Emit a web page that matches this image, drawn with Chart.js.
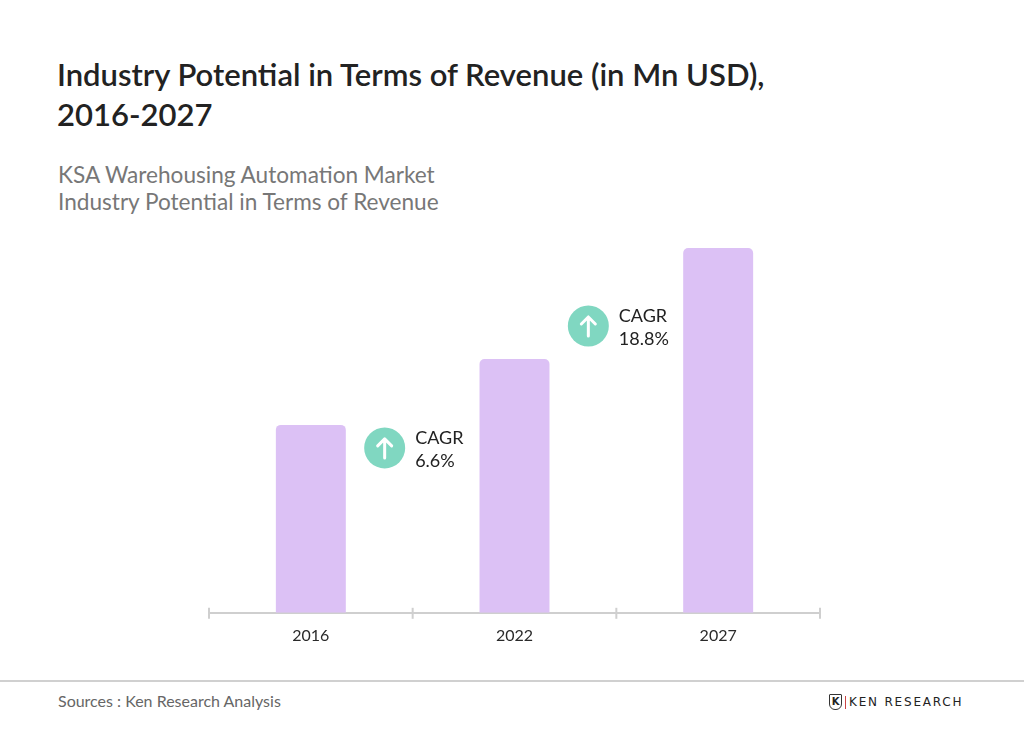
<!DOCTYPE html>
<html>
<head>
<meta charset="utf-8">
<script src="https://cdn.jsdelivr.net/npm/chart.js@4.4.0/dist/chart.umd.min.js"></script>
<style>
  html, body { margin: 0; padding: 0; background: #fff; }
  body { width: 1024px; height: 742px; position: relative; overflow: hidden; font-family: Lato, "Noto Sans", sans-serif; }
  .title { position: absolute; left: 57px; top: 54px; font-size: 31px; font-weight: 600; color: #222; line-height: 40px; }
  .sub { position: absolute; left: 58px; top: 161px; font-size: 22.6px; color: #777; line-height: 27px; }
  .wrap { position: absolute; left: 0; top: 230px; width: 1024px; height: 440px; }
  .rule { position: absolute; left: 0; top: 680px; width: 1024px; height: 2px; background: #d0d0d0; }
  .src { position: absolute; left: 58px; top: 691px; font-size: 16px; color: #666; }
  .logo { position: absolute; left: 829px; top: 694px; font-family: "DejaVu Sans", sans-serif; font-size: 12px; color: #222; letter-spacing: 1.8px; display: flex; align-items: center; }
  .logo .k { display: inline-block; width: 13px; height: 16px; border: 1.5px solid #333; border-radius: 1px 1px 6px 6px; font-size: 10px; font-weight: 700; line-height: 13px; text-align: center; box-sizing: border-box; margin-right: 3px; letter-spacing: 0; }
  .logo .bar { display: inline-block; width: 1px; height: 13px; background: #c44; margin-right: 3px; }
</style>
</head>
<body>
<div class="title">Industry Potential in Terms of Revenue (in Mn USD),<br>2016-2027</div>
<div class="sub">KSA Warehousing Automation Market<br>Industry Potential in Terms of Revenue</div>
<div class="wrap"><canvas id="chart"></canvas></div>
<div class="rule"></div>
<div class="src">Sources : Ken Research Analysis</div>
<div class="logo"><span class="k">K</span><span class="bar"></span>KEN RESEARCH</div>
<script>
const years = ["2016", "2022", "2027"];
const revenue = [188, 254, 365];
const cagrText = ["6.6%", "18.8%"];
const cagrLevel = [165, 287];

const axisColor = "#cfcfcf";

// tick marks crossing the axis line + CAGR badges between bars
const decorations = {
    id: "decorations",
    afterDraw(chart) {
        const ctx = chart.ctx;
        const x = chart.scales.x;
        const y = chart.scales.y;
        const base = chart.chartArea.bottom;
        ctx.save();
        ctx.strokeStyle = axisColor;
        ctx.lineWidth = 2;
        for (let i = 0; i <= years.length; i++) {
            const px = x.getPixelForValue(i - 0.5);
            ctx.beginPath();
            ctx.moveTo(px, base - 5);
            ctx.lineTo(px, base + 6);
            ctx.stroke();
        }
        cagrText.forEach((t, i) => {
            const mid = (x.getPixelForValue(i) + x.getPixelForValue(i + 1)) / 2;
            const cx = mid - 28;
            const cy = y.getPixelForValue(cagrLevel[i]);
            ctx.fillStyle = "#80d7c1";
            ctx.beginPath();
            ctx.arc(cx, cy, 20.5, 0, Math.PI * 2);
            ctx.fill();
            ctx.strokeStyle = "#fff";
            ctx.lineWidth = 3;
            ctx.lineCap = "round";
            ctx.lineJoin = "round";
            ctx.beginPath();
            ctx.moveTo(cx, cy + 10);
            ctx.lineTo(cx, cy - 9);
            ctx.moveTo(cx - 7, cy - 2);
            ctx.lineTo(cx, cy - 9);
            ctx.lineTo(cx + 7, cy - 2);
            ctx.stroke();
            ctx.fillStyle = "#222";
            ctx.font = "18px Lato";
            ctx.textAlign = "left";
            ctx.textBaseline = "alphabetic";
            ctx.fillText("CAGR", mid + 2.5, cy - 4);
            ctx.fillText(t, mid + 2.5, cy + 19);
        });
        ctx.restore();
    }
};

new Chart(document.getElementById("chart"), {
    type: "bar",
    data: {
        labels: years,
        datasets: [{
            data: revenue,
            backgroundColor: "#dcc1f5",
            borderRadius: { topLeft: 5, topRight: 5 },
            borderSkipped: "bottom",
            barPercentage: 0.687,
            categoryPercentage: 0.5
        }]
    },
    options: {
        responsive: true,
        maintainAspectRatio: false,
        animation: false,
        layout: { padding: { left: 209, right: 204, top: 0, bottom: 12 } },
        plugins: { legend: false, tooltip: { enabled: false } },
        scales: {
            x: {
                grid: { display: false, drawTicks: false },
                border: { display: true, color: axisColor, width: 2 },
                ticks: { color: "#2a2a2a", font: { family: "Lato", size: 16 }, padding: 13 }
            },
            y: { display: false, min: 0, max: 383 }
        }
    },
    plugins: [decorations]
});
</script>
</body>
</html>
